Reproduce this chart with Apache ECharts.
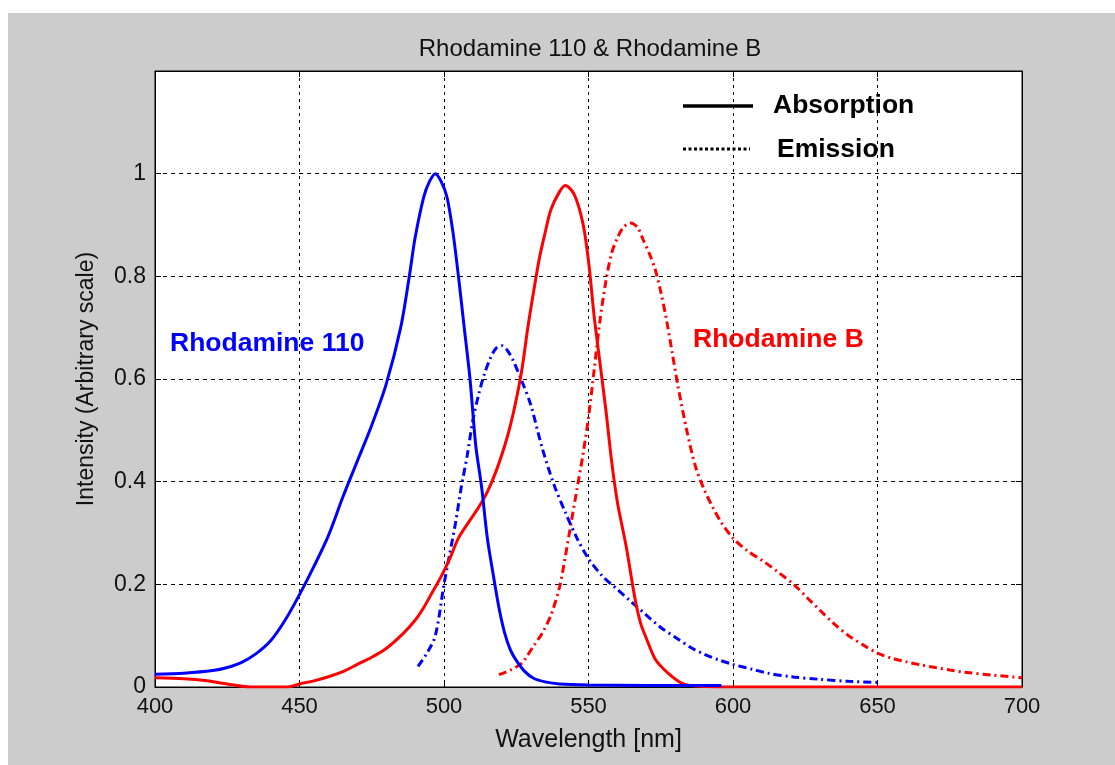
<!DOCTYPE html>
<html>
<head>
<meta charset="utf-8">
<script src="https://cdn.jsdelivr.net/npm/echarts@6/dist/echarts.min.js"></script>
<style>
  html, body { margin: 0; padding: 0; background: #ffffff; width: 1115px; height: 765px; overflow: hidden; }
  #chart { position: absolute; left: 8px; top: 13px; width: 1107px; height: 752px; }
</style>
</head>
<body>
<div id="chart"></div>
<script>
// ---- Data ----
const titleText = 'Rhodamine 110 & Rhodamine B';
const xName = 'Wavelength [nm]';
const yName = 'Intensity (Arbitrary scale)';
const xTicks = [400, 450, 500, 550, 600, 650, 700];
const yTicks = [0, 0.2, 0.4, 0.6, 0.8, 1];

// Rhodamine 110 absorption (blue solid)
const r110AbsWl = [400,410,420,425,430,435,440,445,450,455,460,465,470,475,480,485,488,490,493,495,497,499,501,503,505,507,509,511,513,515,517,519,521,523,525,528,531,535,540,550,570,596];
const r110AbsVal = [0.025,0.027,0.032,0.038,0.048,0.065,0.09,0.13,0.18,0.235,0.295,0.37,0.44,0.51,0.59,0.70,0.80,0.875,0.955,0.985,1.0,0.985,0.955,0.89,0.8,0.7,0.6,0.47,0.39,0.29,0.22,0.155,0.105,0.072,0.052,0.03,0.017,0.01,0.006,0.004,0.003,0.003];

// Rhodamine 110 emission (blue dash-dot)
const r110EmWl = [491,494,497,500,502,504,506,508,510,512,514,516,518,520,522,524,527,530,534,538,542,546,550,555,560,565,570,575,580,586,590,595,600,607,612,620,630,640,650];
const r110EmVal = [0.04,0.065,0.1,0.2,0.26,0.32,0.39,0.45,0.52,0.57,0.61,0.64,0.66,0.665,0.655,0.635,0.595,0.55,0.465,0.395,0.34,0.29,0.25,0.215,0.19,0.165,0.14,0.116,0.097,0.075,0.064,0.053,0.044,0.034,0.027,0.02,0.015,0.011,0.009];

// Rhodamine B absorption (red solid)
const rbAbsWl = [400,410,418,425,433,440,446,450,455,460,465,470,475,480,486,490,493,496,499,502,505,509,512,515,518,521,523,525,527,529,531,533,535,537,540,542,545,548,550,552,554,556,558,560,563,566,568,570,573,576,579,582,585,590,600,650,700];
const rbAbsVal = [0.018,0.016,0.012,0.006,0.0,0.0,0.0,0.006,0.012,0.02,0.03,0.044,0.058,0.075,0.105,0.13,0.155,0.185,0.215,0.25,0.29,0.325,0.35,0.38,0.42,0.47,0.51,0.56,0.62,0.70,0.77,0.835,0.885,0.93,0.965,0.977,0.96,0.905,0.83,0.72,0.63,0.54,0.44,0.36,0.275,0.175,0.125,0.095,0.055,0.035,0.02,0.008,0.003,0.001,0.0,0.0,0.0];

// Rhodamine B emission (red dash-dot)
const rbEmWl = [519,523,527,531,534,537,540,542,544,546,548,550,552,554,556,558,560,562,564.5,567,569,571,573,575,577,579,581,584,587,590,593,596,600,605,611,616,621,626,630,635,640,645,650,655,660,665,670,675,680,690,700];
const rbEmVal = [0.024,0.033,0.047,0.08,0.105,0.14,0.195,0.255,0.32,0.385,0.45,0.525,0.62,0.715,0.79,0.845,0.875,0.895,0.904,0.895,0.87,0.845,0.815,0.77,0.715,0.65,0.585,0.5,0.43,0.385,0.35,0.32,0.29,0.265,0.243,0.222,0.2,0.172,0.15,0.123,0.1,0.082,0.066,0.056,0.049,0.043,0.038,0.033,0.029,0.023,0.018];

const legendLabels = ['Absorption', 'Emission'];
const dyeLabels = ['Rhodamine 110', 'Rhodamine B'];

// ---- Build ----
const pairs = (xs, ys) => xs.map((x, i) => [x, ys[i]]);
const FONT = '"Liberation Sans", Arial, sans-serif';
const dashDot = [8, 4, 2, 4];

const chart = echarts.init(document.getElementById('chart'), null, { renderer: 'canvas' });

const baseX = {
  type: 'value', min: 400, max: 700, interval: 50,
  axisLine: { show: true, onZero: false, lineStyle: { color: '#000', width: 1 } },
  axisTick: { show: true, inside: true, length: 6, lineStyle: { color: '#000' } },
};
const baseY = {
  type: 'value', min: 0, max: 1.2, interval: 0.2,
  axisLine: { show: true, onZero: false, lineStyle: { color: '#000', width: 1 } },
  axisTick: { show: true, inside: true, length: 6, lineStyle: { color: '#000' } },
};

const option = {
  backgroundColor: '#cccccc',
  animation: false,
  title: {
    text: titleText, left: 577, top: 19, textAlign: 'center',
    textStyle: { fontFamily: FONT, fontSize: 24, fontWeight: 'normal', color: '#111' }
  },
  grid: {
    left: 147, right: 93, top: 58, height: 616,
    show: true, backgroundColor: '#ffffff', borderColor: '#000', borderWidth: 1
  },
  xAxis: [
    Object.assign({}, baseX, {
      position: 'bottom',
      name: xName, nameLocation: 'middle', nameGap: 41,
      nameTextStyle: { fontFamily: FONT, fontSize: 25, color: '#111' },
      axisLabel: { show: true, margin: 9, fontFamily: FONT, fontSize: 22, color: '#111',
        formatter: v => (xTicks.indexOf(v) >= 0 ? String(v) : '') },
      splitLine: { show: true, lineStyle: { color: '#000', type: [3, 4], width: 1 } }
    }),
    Object.assign({}, baseX, {
      position: 'top', axisLabel: { show: false }, splitLine: { show: false }
    })
  ],
  yAxis: [
    Object.assign({}, baseY, {
      position: 'left',
      name: yName, nameLocation: 'middle', nameGap: 57, nameRotate: 90,
      nameTextStyle: { fontFamily: FONT, fontSize: 23, color: '#111' },
      axisLabel: { show: true, margin: 9, fontFamily: FONT, fontSize: 23, color: '#111',
        formatter: v => {
          const t = yTicks.find(k => Math.abs(k - v) < 1e-6);
          return t === undefined ? '' : String(t);
        } },
      splitLine: { show: true, lineStyle: { color: '#000', type: [4, 4], width: 1 } }
    }),
    Object.assign({}, baseY, {
      position: 'right', axisLabel: { show: false }, splitLine: { show: false }
    })
  ],
  series: [
    { name: 'R110 absorption', type: 'line', data: pairs(r110AbsWl, r110AbsVal), showSymbol: false, smooth: 0.3,
      lineStyle: { color: '#0000ff', width: 3 }, z: 5 },
    { name: 'R110 emission', type: 'line', data: pairs(r110EmWl, r110EmVal), showSymbol: false, smooth: 0.3,
      lineStyle: { color: '#0000ff', width: 3, type: dashDot }, z: 4 },
    { name: 'RhB absorption', type: 'line', data: pairs(rbAbsWl, rbAbsVal), showSymbol: false, smooth: 0.3,
      lineStyle: { color: '#ff0000', width: 3 }, z: 4 },
    { name: 'RhB emission', type: 'line', data: pairs(rbEmWl, rbEmVal), showSymbol: false, smooth: 0.3,
      lineStyle: { color: '#ff0000', width: 3, type: dashDot }, z: 3 }
  ],
  graphic: [
    { type: 'line', shape: { x1: 675, y1: 93, x2: 745, y2: 93 }, style: { stroke: '#000', lineWidth: 3.5 }, z: 10 },
    { type: 'text', left: 765, top: 79, style: { text: legendLabels[0], font: 'bold 26.5px ' + FONT, fill: '#000' }, z: 10 },
    { type: 'line', shape: { x1: 675, y1: 136, x2: 742, y2: 136 }, style: { stroke: '#000', lineWidth: 3, lineDash: [3, 2.5] }, z: 10 },
    { type: 'text', left: 769, top: 123, style: { text: legendLabels[1], font: 'bold 26.5px ' + FONT, fill: '#000' }, z: 10 },
    { type: 'text', left: 162, top: 317, style: { text: dyeLabels[0], font: 'bold 26.5px ' + FONT, fill: '#0000ff' }, z: 10 },
    { type: 'text', left: 685, top: 313, style: { text: dyeLabels[1], font: 'bold 26.5px ' + FONT, fill: '#ff0000' }, z: 10 }
  ]
};
chart.setOption(option);
</script>
</body>
</html>
